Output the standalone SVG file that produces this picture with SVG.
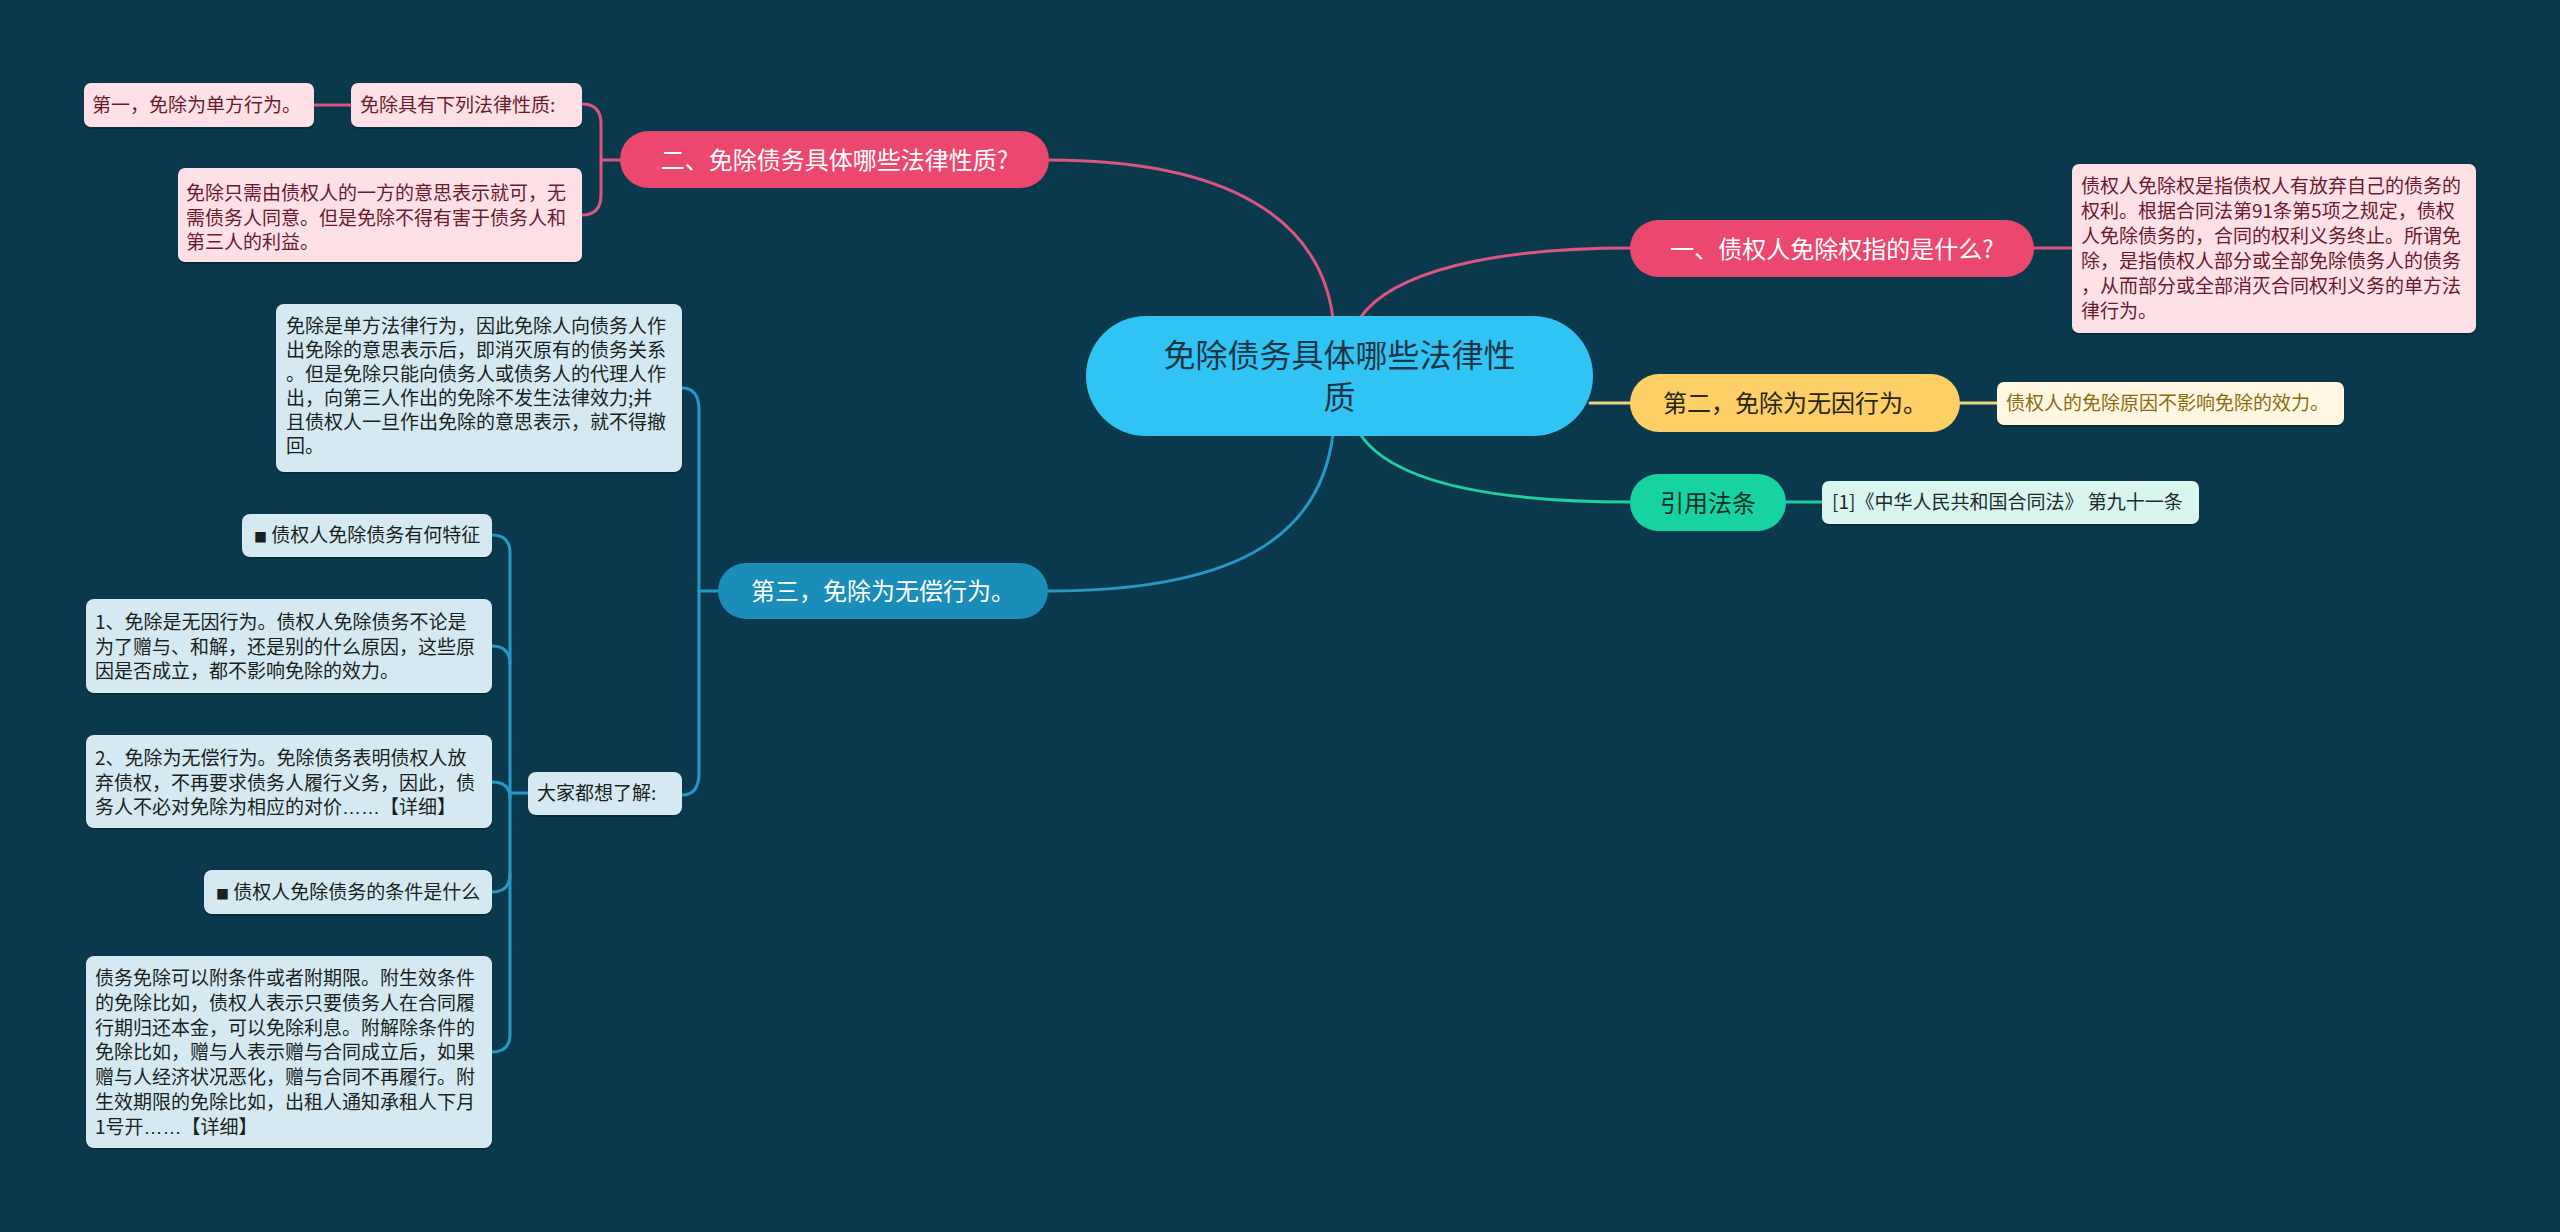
<svg xmlns="http://www.w3.org/2000/svg" width="2560" height="1232" viewBox="0 0 2560 1232">
<defs>
<style>
text{font-family:"Noto Sans CJK SC","Noto Sans",sans-serif;}
.c{fill:none;stroke-width:3;stroke-linecap:round;}
.cp{stroke:#dc5580;}
.cy{stroke:#f0d67e;}
.cg{stroke:#1fcf9f;}
.cb{stroke:#2698c4;}
.sh{fill:#000;opacity:0.22;}
.t19{font-size:19px;}
.t24{font-size:24px;}
.pk{fill:#fde1e7;}
.pkt{fill:#6b1a2c;}
.bl{fill:#d4e9f1;}
.blt{fill:#1a1f22;}
.lat{font-family:"Liberation Sans",sans-serif;}
.sq{font-size:13px;}
</style>
</defs>
<rect width="2560" height="1232" fill="#0a394d"/>

<g id="connectors">
<path class="c cp" d="M1333,318 C1320,220 1230,160 1048,160"/>
<path class="c cp" d="M1360,318 C1392,272 1490,248 1632,248"/>
<path class="c cy" d="M1590,403 L1632,403"/>
<path class="c cg" d="M1360,434 C1392,482 1490,502 1632,502"/>
<path class="c cb" d="M1333,434 C1320,540 1230,591 1048,591"/>
<path class="c cp" d="M2034,248 L2072,248"/>
<path class="c cy" d="M1960,403 L1997,403"/>
<path class="c cg" d="M1786,502 L1822,502"/>
<path class="c cp" d="M620,160 L601,160"/>
<path class="c cp" d="M582,104 Q601,104 601,124 L601,195 Q601,215 582,215"/>
<path class="c cp" d="M351,105 L314,105"/>
<path class="c cb" d="M718,591 L699,591"/>
<path class="c cb" d="M682,388 Q699,388 699,410 L699,773 Q699,795 682,795"/>
<path class="c cb" d="M528,793 L510,793"/>
<path class="c cb" d="M492,535 Q510,535 510,553 L510,1034 Q510,1052 492,1052"/>
<path class="c cb" d="M492,646 Q510,646 510,664"/>
<path class="c cb" d="M492,782 Q510,782 510,798"/>
<path class="c cb" d="M492,892 Q510,892 510,874"/>
</g>

<g id="center">
<rect x="1086" y="316" width="507" height="120" rx="60" fill="#2fc4f4"/>
<text x="1339.5" y="367" font-size="32" text-anchor="middle" fill="#1c3545">免除债务具体哪些法律性</text>
<text x="1339.5" y="409" font-size="32" text-anchor="middle" fill="#1c3545">质</text>
</g>

<g id="branch-2">
<rect x="620" y="131" width="429" height="57" rx="28.5" fill="#ec476f"/>
<text x="834.5" y="168.5" class="t24" text-anchor="middle" fill="#ffffff">二、免除债务具体哪些法律性质?</text>
</g>
<g id="n-2a">
<rect class="sh" x="351" y="85" width="231" height="44" rx="7"/>
<rect class="pk" x="351" y="83" width="231" height="44" rx="7"/>
<text x="360" y="112" class="t19 pkt">免除具有下列法律性质:</text>
</g>
<g id="n-2a1">
<rect class="sh" x="84" y="85" width="230" height="44" rx="7"/>
<rect class="pk" x="84" y="83" width="230" height="44" rx="7"/>
<text x="92" y="112" class="t19 pkt">第一，免除为单方行为。</text>
</g>
<g id="n-2b">
<rect class="sh" x="178" y="170" width="404" height="94" rx="7"/>
<rect class="pk" x="178" y="168" width="404" height="94" rx="7"/>
<text x="186" y="200" class="t19 pkt">免除只需由债权人的一方的意思表示就可，无</text>
<text x="186" y="224.5" class="t19 pkt">需债务人同意。但是免除不得有害于债务人和</text>
<text x="186" y="249" class="t19 pkt">第三人的利益。</text>
</g>

<g id="branch-1">
<rect x="1630" y="220" width="404" height="57" rx="28.5" fill="#ec476f"/>
<text x="1832" y="257.5" class="t24" text-anchor="middle" fill="#ffffff">一、债权人免除权指的是什么?</text>
</g>
<g id="n-1a">
<rect class="sh" x="2072" y="166" width="404" height="169" rx="7"/>
<rect class="pk" x="2072" y="164" width="404" height="169" rx="7"/>
<text x="2081" y="193" class="t19 pkt">债权人免除权是指债权人有放弃自己的债务的</text>
<text x="2081" y="218" class="t19 pkt">权利。根据合同法第91条第5项之规定，债权</text>
<text x="2081" y="243" class="t19 pkt">人免除债务的，合同的权利义务终止。所谓免</text>
<text x="2081" y="268" class="t19 pkt">除，是指债权人部分或全部免除债务人的债务</text>
<text x="2081" y="293" class="t19 pkt">，从而部分或全部消灭合同权利义务的单方法</text>
<text x="2081" y="318" class="t19 pkt">律行为。</text>
</g>

<g id="branch-second">
<rect x="1630" y="374" width="330" height="58" rx="29" fill="#fcd067"/>
<text x="1795" y="412" class="t24" text-anchor="middle" fill="#2a2412">第二，免除为无因行为。</text>
</g>
<g id="n-second-a">
<rect class="sh" x="1997" y="384" width="347" height="43" rx="7"/>
<rect x="1997" y="382" width="347" height="43" rx="7" fill="#fff7e1"/>
<text x="2006" y="410" class="t19" fill="#8c6a12">债权人的免除原因不影响免除的效力。</text>
</g>

<g id="branch-law">
<rect x="1630" y="474" width="156" height="57" rx="28.5" fill="#17d3a1"/>
<text x="1708" y="511.5" class="t24" text-anchor="middle" fill="#0d2f2a">引用法条</text>
</g>
<g id="n-law-a">
<rect class="sh" x="1822" y="483" width="377" height="43" rx="7"/>
<rect x="1822" y="481" width="377" height="43" rx="7" fill="#d8f5f0"/>
<text x="1832" y="509" class="t19" fill="#1c2b2b">[1]《中华人民共和国合同法》 第九十一条</text>
</g>

<g id="branch-3">
<rect x="718" y="563" width="330" height="56" rx="28" fill="#1a8db8"/>
<text x="883" y="600" class="t24" text-anchor="middle" fill="#ffffff">第三，免除为无偿行为。</text>
</g>
<g id="n-3a">
<rect class="sh" x="276" y="306" width="406" height="168" rx="8"/>
<rect class="bl" x="276" y="304" width="406" height="168" rx="8"/>
<text x="286" y="333" class="t19 blt">免除是单方法律行为，因此免除人向债务人作</text>
<text x="286" y="357" class="t19 blt">出免除的意思表示后，即消灭原有的债务关系</text>
<text x="286" y="381" class="t19 blt">。但是免除只能向债务人或债务人的代理人作</text>
<text x="286" y="405" class="t19 blt">出，向第三人作出的免除不发生法律效力;并</text>
<text x="286" y="429" class="t19 blt">且债权人一旦作出免除的意思表示，就不得撤</text>
<text x="286" y="453" class="t19 blt">回。</text>
</g>
<g id="n-3b">
<rect class="sh" x="528" y="774" width="154" height="43" rx="8"/>
<rect class="bl" x="528" y="772" width="154" height="43" rx="8"/>
<text x="537" y="800" class="t19 blt">大家都想了解:</text>
</g>
<g id="n-3b1">
<rect class="sh" x="242" y="516" width="250" height="43" rx="8"/>
<rect class="bl" x="242" y="514" width="250" height="43" rx="8"/>
<text x="254" y="542" class="t19 blt"><tspan class="sq">■</tspan> 债权人免除债务有何特征</text>
</g>
<g id="n-3b2">
<rect class="sh" x="86" y="601" width="406" height="94" rx="8"/>
<rect class="bl" x="86" y="599" width="406" height="94" rx="8"/>
<text x="95" y="629" class="t19 blt">1、免除是无因行为。债权人免除债务不论是</text>
<text x="95" y="653.5" class="t19 blt">为了赠与、和解，还是别的什么原因，这些原</text>
<text x="95" y="678" class="t19 blt">因是否成立，都不影响免除的效力。</text>
</g>
<g id="n-3b3">
<rect class="sh" x="86" y="737" width="406" height="93" rx="8"/>
<rect class="bl" x="86" y="735" width="406" height="93" rx="8"/>
<text x="95" y="765" class="t19 blt">2、免除为无偿行为。免除债务表明债权人放</text>
<text x="95" y="789.5" class="t19 blt">弃债权，不再要求债务人履行义务，因此，债</text>
<text x="95" y="814" class="t19 blt">务人不必对免除为相应的对价<tspan class="lat">……</tspan>【详细】</text>
</g>
<g id="n-3b4">
<rect class="sh" x="204" y="872" width="288" height="44" rx="8"/>
<rect class="bl" x="204" y="870" width="288" height="44" rx="8"/>
<text x="216" y="899" class="t19 blt"><tspan class="sq">■</tspan> 债权人免除债务的条件是什么</text>
</g>
<g id="n-3b5">
<rect class="sh" x="86" y="958" width="406" height="192" rx="8"/>
<rect class="bl" x="86" y="956" width="406" height="192" rx="8"/>
<text x="95" y="985" class="t19 blt">债务免除可以附条件或者附期限。附生效条件</text>
<text x="95" y="1009.8" class="t19 blt">的免除比如，债权人表示只要债务人在合同履</text>
<text x="95" y="1034.6" class="t19 blt">行期归还本金，可以免除利息。附解除条件的</text>
<text x="95" y="1059.4" class="t19 blt">免除比如，赠与人表示赠与合同成立后，如果</text>
<text x="95" y="1084.2" class="t19 blt">赠与人经济状况恶化，赠与合同不再履行。附</text>
<text x="95" y="1109" class="t19 blt">生效期限的免除比如，出租人通知承租人下月</text>
<text x="95" y="1133.8" class="t19 blt">1号开<tspan class="lat">……</tspan>【详细】</text>
</g>
</svg>
